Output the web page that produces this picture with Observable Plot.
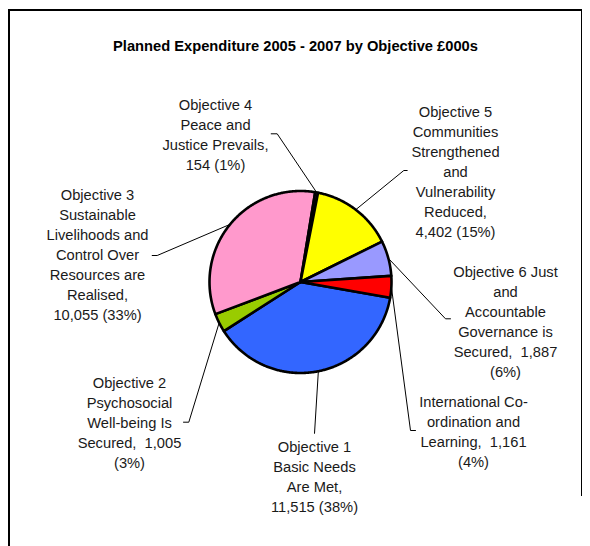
<!DOCTYPE html>
<html>
<head>
<meta charset="utf-8">
<script src="https://cdn.jsdelivr.net/npm/d3@7"></script>
<script src="https://cdn.jsdelivr.net/npm/@observablehq/plot@0.6"></script>
<style>
  html, body { margin: 0; padding: 0; background: #fff; width: 590px; height: 546px; overflow: hidden; }
  #wrap { position: relative; width: 590px; height: 546px; }
  #frameL { position: absolute; left: 8px; top: 9px; width: 1.5px; height: 600px; background: #000; }
  #frameT { position: absolute; left: 8px; top: 9px; width: 574px; height: 1.5px; background: #000; }
  #frameR { position: absolute; left: 580.5px; top: 9px; width: 1.5px; height: 487px; background: #000; }
  #chart { position: absolute; left: 0; top: 0; }
  #chart text { white-space: pre; }
</style>
</head>
<body>
<div id="wrap"><div id="chart"></div><div id="frameL"></div><div id="frameT"></div><div id="frameR"></div></div>
<script>
// ---- data ----
const title = "Planned Expenditure 2005 - 2007 by Objective £000s";
const categories = [
  "Objective 1\nBasic Needs\nAre Met",
  "Objective 2\nPsychosocial\nWell-being Is\nSecured",
  "Objective 3\nSustainable\nLivelihoods and\nControl Over\nResources are\nRealised",
  "Objective 4\nPeace and\nJustice Prevails",
  "Objective 5\nCommunities\nStrengthened\nand\nVulnerability\nReduced",
  "Objective 6 Just\nand\nAccountable\nGovernance is\nSecured",
  "International Co-\nordination and\nLearning"
];
const values = [11515, 1005, 10055, 154, 4402, 1887, 1161];
const colors = ["#3366FF", "#99CC00", "#FF99CC", "#660066", "#FFFF00", "#9999FF", "#FF0000"];
const valueOnNewLine = [true, false, true, true, true, false, false];

// ---- layout (pixels) ----
const cx = 300, cy = 281.5, r = 91, startDeg = 100;
const labelPos = [[314, 475], [129, 421], [97, 253.3], [215, 133], [455, 170], [505, 320], [473, 430.5]];
const leaderStart = [[314, 433], [183, 421.7], [151.7, 255], [270.7, 133.3], [406.7, 170], [450, 318.3], [415, 430]];
const leaderElbow = [[314, 433], [188.3, 421.7], [156.7, 255], [276.7, 133.3], [403.3, 170], [445, 318.3], [410, 430]];

const total = d3.sum(values);
const fmt = d3.format(",");
const rad = d => d * Math.PI / 180;
const pt = a => [cx + r * Math.sin(rad(a)), cy - r * Math.cos(rad(a))];

// slice polygons
const slicePts = [];
const labels = [];
const leaders = [];
let acc = startDeg;
values.forEach((v, i) => {
  const sweep = v / total * 360;
  const a0 = acc, a1 = acc + sweep;
  acc = a1;
  slicePts.push({name: categories[i], x: cx, y: cy});
  const n = Math.max(2, Math.ceil(sweep / 0.5));
  for (let k = 0; k <= n; k++) {
    const [x, y] = pt(a0 + (a1 - a0) * k / n);
    slicePts.push({name: categories[i], x, y});
  }
  slicePts.push({name: categories[i], x: cx, y: cy});
  const pct = Math.round(v / total * 100);
  const txt = categories[i] + "," + (valueOnNewLine[i] ? "\n" : "  ") + fmt(v) +
              (valueOnNewLine[i] ? " " : "\n") + "(" + pct + "%)";
  labels.push({text: txt, x: labelPos[i][0], y: labelPos[i][1]});
  const [ex, ey] = pt((a0 + a1) / 2);
  leaders.push({id: i, x: leaderStart[i][0], y: leaderStart[i][1]});
  leaders.push({id: i, x: leaderElbow[i][0], y: leaderElbow[i][1]});
  leaders.push({id: i, x: ex, y: ey});
});

const chart = Plot.plot({
  width: 590,
  height: 546,
  margin: 0,
  x: {domain: [0, 590], range: [0, 590], axis: null},
  y: {domain: [0, 546], range: [0, 546], axis: null},
  color: {domain: categories, range: colors},
  style: {fontFamily: "'Liberation Sans', Arial, Helvetica, sans-serif", background: "transparent"},
  marks: [
    Plot.line(leaders, {x: "x", y: "y", z: "id", stroke: "#000", strokeWidth: 1}),
    Plot.line(slicePts, {x: "x", y: "y", z: "name", fill: "name", stroke: "#000", strokeWidth: 2.6, strokeLinejoin: "round"}),
    Plot.text(labels, {x: "x", y: "y", text: "text", fontSize: 14.7, lineHeight: 20 / 14.7, fill: "#1a1a1a", textAnchor: "middle"}),
    Plot.text([title], {frameAnchor: "top", lineAnchor: "middle", dy: 46, text: d => d, fontSize: 14.7, fontWeight: "bold", fill: "#000"})
  ]
});
document.getElementById("chart").appendChild(chart);
</script>
</body>
</html>
